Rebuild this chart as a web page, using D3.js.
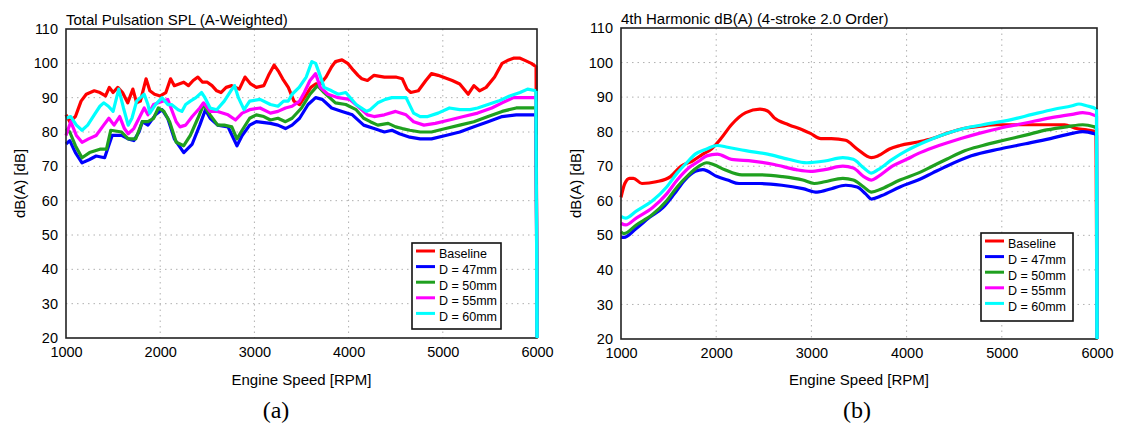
<!DOCTYPE html>
<html>
<head>
<meta charset="utf-8">
<script src="https://cdn.jsdelivr.net/npm/d3@7/dist/d3.min.js"></script>
<style>
  html, body { margin: 0; padding: 0; background: #fff; }
  svg { display: block; }
  text { font-family: "Liberation Sans", Arial, Helvetica, sans-serif; fill: #000; }
</style>
</head>
<body>
<svg id="chart" width="1121" height="426"></svg>
<script>
// ---------------- DATA ----------------
const rpmTicks = [1000, 2000, 3000, 4000, 5000, 6000];
const dbTicks = [20, 30, 40, 50, 60, 70, 80, 90, 100, 110];
const seriesNames = ["Baseline", "D = 47mm", "D = 50mm", "D = 55mm", "D = 60mm"];
const seriesColors = ["#ff0000", "#0000ff", "#1fa01f", "#ff00ff", "#00ffff"];
const titleA = "Total Pulsation SPL (A-Weighted)";
const titleB = "4th Harmonic dB(A) (4-stroke 2.0 Order)";
const xLabel = "Engine Speed [RPM]";
const yLabel = "dB(A) [dB]";
const panelLabels = ["(a)", "(b)"];

// (a) Total pulsation SPL: [rpm, dB]
const aBaseline = [[1000,85],[1040,83],[1100,84.5],[1160,89],[1215,91],[1300,92],[1360,91.5],[1420,90.5],[1460,93],[1500,91.5],[1550,93],[1600,91.5],[1655,88.5],[1710,92.5],[1750,88.5],[1790,89],[1850,95.5],[1890,92],[1940,91],[2000,90.5],[2060,91.5],[2110,95.5],[2150,93.5],[2200,94],[2250,94.5],[2300,93.5],[2350,95],[2400,96],[2450,94.5],[2500,94.5],[2550,93.5],[2600,92],[2645,91.5],[2700,93],[2760,93.5],[2840,92.5],[2900,96],[2960,94],[3020,93],[3100,93.5],[3150,96.5],[3210,99.5],[3260,97.5],[3300,95.5],[3360,93],[3420,89],[3480,88],[3530,90],[3600,93],[3650,94],[3700,94],[3760,96],[3820,99],[3860,100.5],[3930,101],[3990,100],[4050,98],[4100,96.5],[4140,95.5],[4200,95],[4270,96.5],[4380,96],[4500,96],[4570,95.5],[4620,92.5],[4660,91.5],[4740,92],[4820,95],[4880,97],[4950,96.5],[5000,96],[5100,95],[5180,94],[5270,91],[5330,93.5],[5390,92],[5460,93],[5550,96],[5630,100],[5700,101],[5750,101.5],[5820,101.5],[5860,101],[5940,100],[5990,99],[6000,20]];
const aD47 = [[1000,76.5],[1040,77.5],[1100,74],[1170,71],[1250,72],[1320,73],[1410,72.5],[1490,79],[1590,79],[1660,78],[1720,77.5],[1775,80],[1810,83],[1870,82],[1950,85],[2020,86.5],[2080,84],[2150,78],[2250,74],[2340,76.5],[2420,82],[2480,86.5],[2530,84],[2610,82],[2720,81.5],[2815,76],[2870,79],[2950,82],[3020,83],[3170,82.5],[3250,82],[3330,81],[3400,82],[3480,84],[3570,88],[3650,90],[3720,89.5],[3820,87],[3930,86],[4040,85],[4160,82],[4270,81],[4380,80],[4460,80.5],[4540,79.5],[4650,78.5],[4760,78],[4880,78],[5030,79],[5180,80],[5330,81.5],[5480,83],[5630,84.5],[5780,85],[5990,85],[6000,20]];
const aD50 = [[1000,81],[1040,80],[1100,76],[1170,72.5],[1250,74],[1360,75],[1430,75],[1475,80.5],[1590,80],[1660,78],[1740,78],[1810,83],[1870,83],[1930,84],[1980,87],[2040,86],[2100,83],[2170,77],[2250,76],[2320,79],[2400,84],[2460,88],[2530,85],[2610,82],[2680,82],[2760,81.5],[2815,78],[2870,80.5],[2950,84],[3020,85],[3100,84.5],[3170,83.5],[3250,84],[3330,83],[3400,84],[3500,87],[3590,91],[3670,93.5],[3740,91.5],[3860,88.5],[3970,88],[4080,86.5],[4160,84],[4230,83],[4310,82],[4420,82.5],[4500,81.5],[4570,81],[4650,80.5],[4760,80],[4880,80],[5030,81],[5180,82],[5330,83],[5480,84.5],[5630,86],[5780,87],[5990,87],[6000,20]];
const aD55 = [[1000,79],[1050,83],[1110,79],[1170,77],[1240,78],[1320,79],[1400,82],[1455,84],[1510,82],[1570,84.5],[1620,81],[1660,79.5],[1720,81],[1775,84],[1830,87],[1870,85],[1930,88],[1980,88.5],[2080,89.5],[2170,83],[2210,81.5],[2270,82],[2340,84.5],[2420,87],[2460,88.5],[2530,86],[2610,86],[2720,85],[2800,83.5],[2870,85.5],[2950,86.5],[3060,87],[3170,85.5],[3250,86],[3330,87],[3400,87.5],[3480,89],[3530,91.5],[3590,95],[3650,97],[3700,93],[3780,91],[3890,90],[4010,89.5],[4120,87],[4200,85],[4270,84.5],[4380,85],[4500,86],[4610,85],[4690,83],[4800,82],[4920,82.5],[5070,83.5],[5220,84.5],[5370,85.5],[5520,87],[5630,88.5],[5750,90],[5860,90],[5990,90],[6000,20]];
const aD60 = [[1000,84],[1050,84.5],[1110,82],[1170,80.5],[1230,82],[1300,85],[1360,87.5],[1400,88.5],[1450,87.5],[1500,86],[1560,92.5],[1610,87],[1660,82],[1700,84],[1750,89],[1790,90],[1830,91],[1870,88],[1890,85.5],[1950,88],[2020,90],[2080,88],[2120,88],[2190,86.5],[2230,86],[2270,88],[2320,89],[2380,90],[2440,91.5],[2475,90],[2530,87],[2600,86.5],[2680,89],[2750,92],[2790,93.5],[2830,90],[2890,86.5],[2950,89],[3060,89.5],[3170,88],[3250,87.5],[3310,89],[3360,89],[3400,91],[3475,93],[3550,96],[3610,100.5],[3650,100],[3690,97],[3740,93],[3820,92],[3890,91],[3970,91.5],[4080,88],[4190,86],[4230,86.5],[4310,88.5],[4390,89.5],[4460,90],[4610,90],[4690,85.5],[4760,84.5],[4840,84.5],[4950,85.5],[5070,87],[5180,86.5],[5290,86.5],[5370,87],[5480,88],[5590,89],[5710,90.5],[5820,91.5],[5900,92.5],[5990,92],[6000,20]];

// (b) 4th harmonic: [rpm, dB]
const bBaseline = [[1000,61],[1040,65],[1090,66.5],[1130,66.5],[1220,65],[1370,65.5],[1520,67],[1630,70],[1750,71.5],[1860,73.5],[1950,75],[2050,78],[2160,82],[2310,85.5],[2460,86.5],[2540,86],[2610,84],[2760,82],[2910,80.5],[2990,79.5],[3100,78],[3210,78],[3360,77.5],[3480,75],[3630,72.5],[3700,73],[3820,75],[3930,76],[4120,77],[4270,78],[4420,79.5],[4610,81],[4760,81.5],[4950,82],[5170,82],[5400,82],[5550,82],[5660,82],[5770,81],[5890,80.5],[5990,80],[6000,20]];
const bD47 = [[1000,49.5],[1030,49.4],[1160,52],[1290,55],[1440,58],[1560,62],[1670,66],[1780,68.5],[1860,69],[2010,67],[2120,66],[2240,65],[2460,65],[2690,64.5],[2910,63.5],[3060,62.5],[3210,63.5],[3360,64.5],[3480,64],[3570,62],[3630,60.5],[3740,61.5],[3930,64],[4120,66],[4270,68],[4420,70],[4680,73],[4980,75],[5250,76.5],[5510,78],[5740,79.5],[5850,80],[5960,79.5],[5995,79],[6000,20]];
const bD50 = [[1000,51],[1030,50.5],[1160,53],[1330,56],[1480,60],[1590,64],[1710,67.5],[1820,70],[1900,71],[1970,70.5],[2090,69],[2270,67.5],[2460,67.5],[2690,67],[2910,66],[3030,65],[3140,65.5],[3330,66.5],[3440,66],[3550,64],[3630,62.5],[3740,63.5],[3930,66],[4120,68],[4270,70],[4420,72],[4610,74.5],[4800,76],[5020,77.5],[5250,79],[5470,80.5],[5700,81.5],[5850,82],[5960,81.5],[5995,81],[6000,20]];
const bD55 = [[1000,53.5],[1050,53],[1160,55],[1330,58],[1480,62],[1590,66],[1710,69.5],[1820,71.5],[1900,73],[2010,73.5],[2160,72],[2380,71.5],[2610,70.5],[2840,69],[2990,68.5],[3140,69],[3330,70],[3440,69.5],[3550,67],[3630,66],[3700,67],[3850,70],[4000,72],[4150,74],[4340,76],[4570,78],[4760,79.5],[4980,81],[5250,82.5],[5510,84],[5740,85],[5850,85.5],[5995,84.5],[6000,20]];
const bD60 = [[1000,55.5],[1050,55],[1160,57],[1330,60],[1480,64],[1590,68],[1690,71],[1780,73.5],[1900,75],[2010,76],[2120,75.5],[2310,74.5],[2540,73.5],[2760,72],[2950,71],[3140,71.5],[3330,72.5],[3440,72],[3550,69.5],[3630,68],[3700,69],[3850,72],[4000,74.5],[4190,77],[4420,79.5],[4610,81],[4800,82],[5100,83.5],[5320,85],[5550,86.5],[5740,87.5],[5810,88],[5890,87.5],[5995,86.5],[6000,20]];

// ---------------- DRAW ----------------
const svg = d3.select("#chart");

const panels = [
  { title: titleA, series: [aBaseline, aD47, aD50, aD55, aD60], x0: 66, x1: 537, y0: 29, y1: 338,
    legend: { x: 412, y: 243, w: 89, h: 86 }, ylabX: 20, panelX: 276, curve: d3.curveLinear },
  { title: titleB, series: [bBaseline, bD47, bD50, bD55, bD60], x0: 621, x1: 1097, y0: 28, y1: 339,
    legend: { x: 981, y: 233, w: 92, h: 88 }, ylabX: 576, panelX: 857, curve: d3.curveMonotoneX }
];

panels.forEach((p, pi) => {
  const x = d3.scaleLinear().domain([1000, 6000]).range([p.x0, p.x1]);
  const y = d3.scaleLinear().domain([20, 110]).range([p.y1, p.y0]);
  const g = svg.append("g");

  // grid
  g.append("g").selectAll("line").data(rpmTicks.slice(1, -1)).join("line")
    .attr("x1", d => x(d)).attr("x2", d => x(d)).attr("y1", p.y0).attr("y2", p.y1)
    .attr("stroke", "#b0b0b0").attr("stroke-width", 1).attr("stroke-dasharray", "1.5,4");
  g.append("g").selectAll("line").data(dbTicks.slice(1, -1)).join("line")
    .attr("y1", d => y(d)).attr("y2", d => y(d)).attr("x1", p.x0).attr("x2", p.x1)
    .attr("stroke", "#b0b0b0").attr("stroke-width", 1).attr("stroke-dasharray", "1.5,4");

  // axes
  const ax = g.append("g").attr("transform", `translate(0,${p.y1})`)
    .call(d3.axisBottom(x).tickValues(rpmTicks).tickSize(0).tickPadding(9).tickFormat(d3.format("d")));
  ax.select(".domain").remove();
  ax.selectAll("text").style("font-size", "14.5px").attr("fill", "#000");

  const ay = g.append("g").attr("transform", `translate(${p.x0},0)`)
    .call(d3.axisLeft(y).tickValues(dbTicks).tickSize(0).tickPadding(8).tickFormat(d3.format("d")));
  ay.select(".domain").remove();
  ay.selectAll("text").style("font-size", "14.5px").attr("fill", "#000");

  // series lines
  const line = d3.line().x(d => x(d[0])).y(d => y(d[1])).curve(p.curve);
  p.series.forEach((s, i) => {
    g.append("path").datum(s).attr("d", line)
      .attr("fill", "none").attr("stroke", seriesColors[i])
      .attr("stroke-width", 3.2).attr("stroke-linejoin", "round");
  });

  // plot frame
  g.append("rect").attr("x", p.x0).attr("y", p.y0).attr("width", p.x1 - p.x0).attr("height", p.y1 - p.y0)
    .attr("fill", "none").attr("stroke", "#222").attr("stroke-width", 1.6);
  // cyan drop at the right edge stays on top of the frame
  g.append("path").datum(p.series[4].slice(-2)).attr("d", d3.line().x(d => x(d[0])).y(d => y(d[1])))
    .attr("fill", "none").attr("stroke", seriesColors[4]).attr("stroke-width", 3);

  // title
  g.append("text").attr("x", p.x0).attr("y", p.y0 - 4).text(p.title).style("font-size", "15px");

  // axis labels
  g.append("text").attr("x", (p.x0 + p.x1) / 2).attr("y", 385).attr("text-anchor", "middle")
    .text(xLabel).style("font-size", "15px");
  g.append("text").attr("transform", `translate(${p.ylabX},${(p.y0 + p.y1) / 2}) rotate(-90)`)
    .attr("text-anchor", "middle").attr("dy", "0.35em").text(yLabel).style("font-size", "15px");

  // panel label
  g.append("text").attr("x", p.panelX).attr("y", 418).attr("text-anchor", "middle")
    .text(panelLabels[pi]).style("font-family", "'Liberation Serif', 'Times New Roman', serif").style("font-size", "24px");

  // legend
  const L = p.legend;
  const lg = g.append("g");
  lg.append("rect").attr("x", L.x).attr("y", L.y).attr("width", L.w).attr("height", L.h)
    .attr("fill", "#fff").attr("stroke", "#111").attr("stroke-width", 1.6);
  seriesNames.forEach((name, i) => {
    const cy = L.y + 11 + i * 15.6;
    lg.append("line").attr("x1", L.x + 4).attr("x2", L.x + 23).attr("y1", cy - 3).attr("y2", cy - 3)
      .attr("stroke", seriesColors[i]).attr("stroke-width", 3);
    lg.append("text").attr("x", L.x + 27).attr("y", cy).attr("dy", "0.35em").text(name).style("font-size", "12.5px");
  });
});
</script>
</body>
</html>
